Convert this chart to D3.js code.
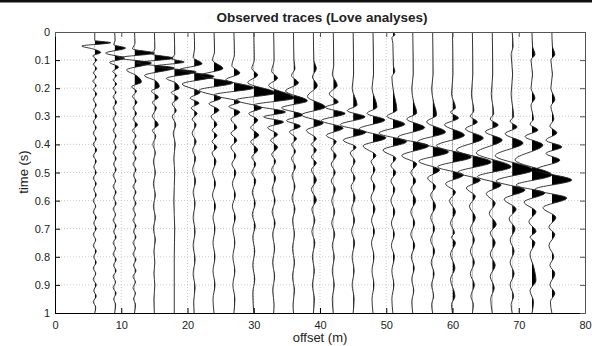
<!DOCTYPE html>
<html><head><meta charset="utf-8">
<script src="https://cdn.jsdelivr.net/npm/d3@7"></script>
<style>body{margin:0;background:#fff} svg{display:block}</style>
</head><body><svg id="c" width="592" height="346"></svg>
<script>
// ---- data ----
const offsets = [6,9,12,15,18,21,24,27,30,33,36,39,42,45,48,51,54,57,60,63,66,69,72,75];
const xTicks = [0,10,20,30,40,50,60,70,80];
const yTicks = [0,0.1,0.2,0.3,0.4,0.5,0.6,0.7,0.8,0.9,1];
const yTickLabels = ["0","0.1","0.2","0.3","0.4","0.5","0.6","0.7","0.8","0.9","1"];
const titleText = "Observed traces (Love analyses)";
const xLabel = "offset (m)";
const yLabel = "time (s)";

// each trace: [time (s), amplitude (counts)] extrema
const trace06 = [[0,0],[0.03,0],[0.038,16],[0.05,-13],[0.06,-2],[0.073,6],[0.085,-2],[0.1,2],[0.115,-1.5],[0.13,2],[0.145,-1.5],[0.16,1.5],[0.175,-2],[0.19,1.5],[0.205,-1.5],[0.22,2],[0.24,-1.5],[0.26,1.5],[0.28,-1.5],[0.3,2],[0.32,-1.5],[0.34,1.5],[0.36,-1.5],[0.38,1.5],[0.4,-1.5],[0.42,2],[0.44,-1.5],[0.46,1.5],[0.48,-1],[0.5,1.5],[0.52,-1.5],[0.54,1.5],[0.56,-1],[0.58,1.5],[0.6,-1.5],[0.62,1],[0.64,-1.5],[0.66,1.5],[0.68,-1],[0.7,1.5],[0.72,-1.5],[0.74,1],[0.76,-1.5],[0.78,1.5],[0.8,-1],[0.82,1.5],[0.84,-1.5],[0.86,1],[0.88,-1.5],[0.9,1.5],[0.92,-1],[0.94,1.5],[0.96,-1.5],[0.98,1],[1,0]];
const trace09 = [[0,0],[0.03,0.5],[0.045,-1],[0.057,11],[0.075,-9],[0.093,10],[0.108,-5],[0.125,4],[0.14,-2],[0.155,2],[0.17,-1.5],[0.185,2],[0.2,-1.5],[0.215,1.5],[0.23,-1.5],[0.25,2],[0.27,-1.5],[0.29,1.5],[0.31,-1.5],[0.33,1.5],[0.35,-1.5],[0.37,1.5],[0.39,-1],[0.41,1.5],[0.43,-1.5],[0.45,1.5],[0.47,-1],[0.49,1.5],[0.51,-1.5],[0.53,1],[0.55,-1.5],[0.57,1.5],[0.59,-1],[0.61,1.5],[0.63,-1.5],[0.65,1],[0.67,-1.5],[0.69,1.5],[0.71,-1],[0.73,1.5],[0.75,-1.5],[0.77,1],[0.79,-1.5],[0.81,1.5],[0.83,-1],[0.85,1.5],[0.87,-1.5],[0.89,1],[0.91,-1.5],[0.93,1.5],[0.95,-1],[0.97,1],[1,0]];
const trace12 = [[0,0],[0.04,0.5],[0.06,-2],[0.075,20],[0.092,-16],[0.11,17],[0.135,-8],[0.155,2],[0.178,7],[0.195,-3],[0.21,2],[0.23,-2],[0.25,2.5],[0.27,-1.5],[0.29,2],[0.31,-1.5],[0.33,3],[0.35,-2],[0.37,1.5],[0.39,-1.5],[0.41,2],[0.43,-1.5],[0.45,1.5],[0.47,-1.5],[0.49,1.5],[0.51,-1],[0.53,1.5],[0.55,-1.5],[0.57,1.5],[0.59,-1],[0.61,1.5],[0.63,-1.5],[0.65,1],[0.67,-1.5],[0.69,1.5],[0.71,-1],[0.73,1.5],[0.75,-1.5],[0.77,1],[0.79,-1.5],[0.81,1.5],[0.83,-1],[0.85,1.5],[0.87,-1.5],[0.89,1],[0.91,-1.5],[0.93,1],[0.95,-1],[0.97,1],[1,0]];
const trace15 = [[0,0],[0.06,0.5],[0.078,-3],[0.093,19],[0.11,-18],[0.128,20],[0.155,-10],[0.175,2],[0.195,5],[0.21,-3],[0.232,4],[0.25,-2],[0.27,2],[0.3,-2],[0.33,4],[0.35,-2],[0.37,1.5],[0.4,-1.5],[0.43,1],[0.46,-1],[0.5,1],[0.54,-1],[0.58,1],[0.62,-1],[0.66,1],[0.7,-1],[0.74,1],[0.78,-0.5],[0.82,0.5],[0.86,-0.5],[0.9,0.5],[0.95,-0.5],[1,0]];
const trace18 = [[0,0],[0.08,0.5],[0.095,-3],[0.107,10],[0.122,-20],[0.142,22],[0.165,-8],[0.18,1],[0.2,5],[0.215,-3],[0.235,4],[0.255,-2],[0.28,2],[0.3,-2],[0.33,1.5],[0.36,-1],[0.4,1],[0.45,-0.5],[0.5,0.5],[0.6,-0.5],[0.7,0.5],[0.8,0],[1,0]];
const trace21 = [[0,0],[0.06,0.5],[0.09,-1],[0.113,8],[0.135,-15],[0.158,20],[0.185,-12],[0.215,6],[0.235,-4],[0.253,5],[0.27,-3],[0.29,3],[0.31,-2],[0.33,2],[0.36,-2],[0.39,2],[0.42,-1.5],[0.45,1.5],[0.49,-1.5],[0.53,1.5],[0.57,-1],[0.61,1],[0.66,-1],[0.71,1],[0.76,-1],[0.81,1],[0.86,-1],[0.91,1],[0.96,-0.5],[1,0]];
const trace24 = [[0,0],[0.07,0.5],[0.1,-1.5],[0.13,9],[0.155,-14],[0.181,19],[0.207,-15],[0.235,7],[0.255,-5],[0.278,5],[0.3,-3],[0.33,3],[0.35,-2],[0.368,3],[0.39,-2],[0.41,3],[0.43,-2],[0.46,2],[0.5,-1.5],[0.54,1.5],[0.58,-1.5],[0.62,1.5],[0.66,-1],[0.7,1],[0.75,-1],[0.8,1],[0.85,-1],[0.9,1],[0.95,-1],[1,0]];
const trace27 = [[0,0],[0.08,0.5],[0.12,-2],[0.146,6],[0.17,-8],[0.199,20],[0.224,-20],[0.249,6],[0.265,-5],[0.285,6],[0.31,-3],[0.34,3],[0.36,-3],[0.385,3],[0.41,-3],[0.44,2],[0.47,-2],[0.5,2],[0.54,-1.5],[0.58,1.5],[0.62,-1.5],[0.66,1.5],[0.7,-1],[0.75,1],[0.8,-1],[0.85,1],[0.9,-1],[0.95,1],[1,0]];
const trace30 = [[0,0],[0.1,0.5],[0.13,-2],[0.153,4],[0.18,-6],[0.217,22],[0.242,-18],[0.27,8],[0.29,-5],[0.313,4],[0.34,-3],[0.367,5],[0.39,-3],[0.42,4],[0.445,-2],[0.47,2],[0.5,-2],[0.53,2],[0.57,-1.5],[0.61,1.5],[0.65,-1.5],[0.69,1.5],[0.73,-1],[0.78,1],[0.83,-1],[0.88,1],[0.93,-1],[1,0]];
const trace33 = [[0,0],[0.1,0.5],[0.14,-2],[0.164,4],[0.19,-5],[0.235,21],[0.26,-20],[0.285,12],[0.302,-10],[0.32,10],[0.34,-6],[0.365,4],[0.385,-3],[0.41,4],[0.435,-2],[0.46,2],[0.49,-2],[0.52,2],[0.56,-1.5],[0.6,1.5],[0.64,-1.5],[0.68,1.5],[0.72,-1],[0.77,1],[0.82,-1],[0.87,1],[0.92,-1],[0.97,0.5],[1,0]];
const trace36 = [[0,0],[0.1,0.5],[0.13,1.5],[0.155,-2],[0.181,5],[0.21,-8],[0.245,14],[0.27,-12],[0.295,9],[0.315,-7],[0.335,7],[0.355,-4],[0.38,3],[0.4,-2],[0.425,2],[0.45,-2],[0.48,2],[0.51,-1.5],[0.55,1.5],[0.59,-1.5],[0.63,1.5],[0.67,-1],[0.72,1],[0.77,-1],[0.82,1],[0.87,-1],[0.92,1],[0.97,-0.5],[1,0]];
const trace39 = [[0,0],[0.1,0.5],[0.13,3],[0.16,-1],[0.19,4],[0.23,-6],[0.267,12],[0.295,-12],[0.324,10],[0.35,-7],[0.38,3],[0.4,-2],[0.42,3],[0.445,-2],[0.466,3],[0.49,-2],[0.527,3],[0.56,-2],[0.598,3],[0.63,-1.5],[0.67,1.5],[0.71,-1.5],[0.75,1.5],[0.8,-1],[0.85,1],[0.9,-1],[0.95,1],[1,0]];
const trace42 = [[0,0],[0.12,0.5],[0.15,-1],[0.19,4],[0.22,-4],[0.25,5],[0.268,-8],[0.29,12],[0.315,-12],[0.342,10],[0.368,-7],[0.39,3],[0.415,-2],[0.44,3],[0.47,-2],[0.5,2],[0.53,-2],[0.56,2],[0.6,-1.5],[0.64,1.5],[0.68,-1.5],[0.72,1.5],[0.76,-1],[0.8,1],[0.85,-1],[0.9,1],[0.95,-1],[1,0]];
const trace45 = [[0,0],[0.15,0.5],[0.2,-1],[0.26,4],[0.28,-6],[0.302,12],[0.33,-13],[0.357,13],[0.385,-10],[0.41,3],[0.43,-3],[0.46,2],[0.49,-2],[0.52,2],[0.55,-2],[0.59,2],[0.63,-1.5],[0.67,1.5],[0.71,-1.5],[0.75,1.5],[0.8,-1],[0.85,1],[0.9,-1],[0.95,1],[1,0]];
const trace48 = [[0,0],[0.15,0.5],[0.2,-1],[0.267,4],[0.29,-6],[0.313,12],[0.345,-14],[0.377,13],[0.405,-10],[0.44,3],[0.46,-2],[0.49,2],[0.52,-2],[0.55,2],[0.59,-2],[0.63,2],[0.67,-1.5],[0.71,1.5],[0.75,-1.5],[0.8,1],[0.85,-1],[0.9,1],[0.95,-1],[1,0]];
const trace51 = [[0,0],[0.01,2],[0.02,-1],[0.04,0],[0.12,0.5],[0.14,2],[0.16,-1],[0.21,0.5],[0.278,4],[0.3,-6],[0.328,12],[0.36,-14],[0.39,14],[0.42,-10],[0.45,3],[0.475,-2],[0.5,3],[0.53,-2],[0.56,2],[0.6,-2],[0.64,2],[0.68,-1.5],[0.72,1.5],[0.76,-1.5],[0.8,1.5],[0.85,-1],[0.9,1],[0.95,-1],[1,0]];
const trace54 = [[0,0],[0.15,0.5],[0.2,-1],[0.25,1],[0.288,4],[0.31,-6],[0.34,12],[0.375,-15],[0.405,16],[0.44,-11],[0.47,4],[0.5,-2],[0.53,3],[0.56,-2],[0.6,3],[0.64,-2],[0.68,2],[0.72,-2],[0.76,2],[0.8,-1.5],[0.84,1.5],[0.88,-1],[0.92,1],[0.96,-1],[1,0]];
const trace57 = [[0,0],[0.15,0.5],[0.2,-1],[0.25,1],[0.295,4],[0.32,-6],[0.356,13],[0.39,-15],[0.427,16],[0.46,-14],[0.491,7],[0.52,-5],[0.55,3],[0.58,-2],[0.62,3],[0.66,-2],[0.7,2],[0.74,-2],[0.78,2],[0.82,-1.5],[0.86,1.5],[0.9,-1],[0.94,1],[0.97,-1],[1,0]];
const trace60 = [[0,0],[0.15,0.5],[0.22,-1],[0.27,3],[0.285,-2],[0.306,6],[0.33,-8],[0.367,12],[0.405,-16],[0.445,19],[0.48,-15],[0.509,11],[0.54,-7],[0.57,3],[0.6,-3],[0.64,3],[0.68,-2],[0.715,2],[0.73,-1],[0.75,3],[0.79,-2],[0.84,2.5],[0.88,-2],[0.94,2.5],[0.97,-1],[1,0]];
const trace63 = [[0,0],[0.15,0.5],[0.22,-1],[0.28,1.5],[0.3,-2],[0.32,5],[0.345,-7],[0.377,11],[0.42,-16],[0.463,19],[0.5,-15],[0.527,8],[0.555,-6],[0.585,3],[0.62,-3],[0.66,3],[0.7,-2],[0.74,2],[0.78,-2],[0.82,2],[0.86,-2],[0.9,2],[0.94,-1.5],[0.97,1],[1,0]];
const trace66 = [[0,0],[0.15,0.5],[0.22,-1],[0.29,1.5],[0.31,-2],[0.331,6],[0.355,-7],[0.384,10],[0.43,-16],[0.48,19],[0.515,-15],[0.544,9],[0.575,-6],[0.61,3],[0.645,-3],[0.685,4],[0.715,-2],[0.75,3],[0.79,-2],[0.83,3],[0.87,-2],[0.91,2],[0.95,-1.5],[1,0]];
const trace69 = [[0,0],[0.05,1],[0.08,-1],[0.15,0.5],[0.22,-1],[0.3,1.5],[0.318,-2],[0.338,5],[0.362,-7],[0.395,11],[0.44,-17],[0.491,21],[0.53,-16],[0.562,13],[0.595,-8],[0.63,4],[0.665,-3],[0.7,3],[0.74,-2],[0.78,2],[0.82,-2],[0.86,2],[0.9,-2],[0.94,1.5],[0.97,-1],[1,0]];
const trace72 = [[0,0],[0.05,0.5],[0.08,3],[0.1,-1],[0.15,0.5],[0.2,-1],[0.235,3],[0.26,-1],[0.31,1.5],[0.328,-2],[0.349,6],[0.372,-7],[0.402,11],[0.455,-17],[0.509,20],[0.545,-16],[0.573,13],[0.605,-8],[0.64,4],[0.675,-3],[0.71,4],[0.73,-2],[0.75,3],[0.79,-2],[0.84,2],[0.885,4],[0.92,-2],[0.96,1.5],[1,0]];
const trace75 = [[0,0],[0.05,0.5],[0.08,3],[0.1,-1],[0.15,0.5],[0.2,-1],[0.24,3],[0.265,-1],[0.31,2],[0.335,-2],[0.359,5],[0.385,-6],[0.409,10],[0.432,-6],[0.456,8],[0.49,-16],[0.527,20],[0.56,-17],[0.591,15],[0.625,-9],[0.66,4],[0.695,-3],[0.72,3],[0.76,-3],[0.8,2],[0.83,-2],[0.86,3],[0.9,-2],[0.93,3],[0.96,-1.5],[1,0]];
const traces = [trace06,trace09,trace12,trace15,trace18,trace21,trace24,trace27,trace30,trace33,trace36,trace39,trace42,trace45,trace48,trace51,trace54,trace57,trace60,trace63,trace66,trace69,trace72,trace75];

// ---- drawing ----
const FONT = "'Liberation Sans', Arial, Helvetica, sans-serif";
const svg = d3.select("#c");
svg.append("rect").attr("width",592).attr("height",346).attr("fill","#fff");
svg.append("rect").attr("x",0).attr("y",0).attr("width",592).attr("height",2.5).attr("fill","#111");

const x = d3.scaleLinear().domain([0,80]).range([55,585]);
const y = d3.scaleLinear().domain([0,1]).range([32,313]);
const gain = d3.scaleLinear().domain([0,20]).range([0,3]); // amplitude counts -> metres of offset

// grid
const grid = svg.append("g").attr("stroke","#bdbdbd").attr("stroke-width",0.8).attr("stroke-dasharray","1,2");
grid.selectAll("line.gx").data(xTicks.slice(1,-1)).join("line").attr("class","gx")
  .attr("x1",d=>x(d)).attr("x2",d=>x(d)).attr("y1",y(0)).attr("y2",y(1));
grid.selectAll("line.gy").data(yTicks.slice(1,-1)).join("line").attr("class","gy")
  .attr("y1",d=>y(d)).attr("y2",d=>y(d)).attr("x1",x(0)).attr("x2",x(80));

// traces
const defs = svg.append("defs");
const tg = svg.append("g");
traces.forEach((tr,i)=>{
  const off = offsets[i];
  const id = "clip"+i;
  defs.append("clipPath").attr("id",id).append("rect")
    .attr("x",x(off)).attr("y",y(0)-1).attr("width",60).attr("height",y(1)-y(0)+2);
  const area = d3.area().curve(d3.curveMonotoneY)
    .y(d=>y(d[0])).x0(x(off)).x1(d=>x(off+gain(d[1])));
  const line = d3.line().curve(d3.curveMonotoneY)
    .y(d=>y(d[0])).x(d=>x(off+gain(d[1])));
  tg.append("path").attr("d",area(tr)).attr("fill","#000").attr("clip-path",`url(#${id})`);
  tg.append("path").attr("d",line(tr)).attr("fill","none").attr("stroke","#222").attr("stroke-width",0.9);
});

// axes
function styleAxis(g){
  g.attr("font-size",11).attr("font-family",FONT).attr("color","#000");
  g.selectAll("text").attr("fill","#222");
}
svg.append("g").attr("transform",`translate(${x(0)},0)`)
  .call(d3.axisLeft(y).tickValues(yTicks).tickFormat((d,i)=>yTickLabels[i]).tickSizeInner(-5).tickSizeOuter(0).tickPadding(5))
  .call(styleAxis);
svg.append("g").attr("transform",`translate(0,${y(1)})`)
  .call(d3.axisBottom(x).tickValues(xTicks).tickFormat(d3.format("d")).tickSizeInner(-5).tickSizeOuter(0).tickPadding(8))
  .call(styleAxis);
svg.append("g").attr("transform",`translate(${x(80)},0)`)
  .call(d3.axisRight(y).tickValues(yTicks).tickFormat("").tickSizeInner(-5).tickSizeOuter(0))
  .call(styleAxis).attr("color","#555");
svg.append("g").attr("transform",`translate(0,${y(0)})`)
  .call(d3.axisTop(x).tickValues(xTicks).tickFormat("").tickSizeInner(-5).tickSizeOuter(0))
  .call(styleAxis).attr("color","#555");

// labels
svg.append("text").attr("x",322).attr("y",22).attr("text-anchor","middle")
  .attr("font-family",FONT).attr("font-size",13.5).attr("font-weight","bold").attr("fill","#222").text(titleText);
svg.append("text").attr("x",320).attr("y",342).attr("text-anchor","middle")
  .attr("font-family",FONT).attr("font-size",13).attr("fill","#222").text(xLabel);
svg.append("text").attr("transform","translate(28,172) rotate(-90)").attr("text-anchor","middle")
  .attr("font-family",FONT).attr("font-size",13).attr("fill","#222").text(yLabel);
</script>
</body></html>
